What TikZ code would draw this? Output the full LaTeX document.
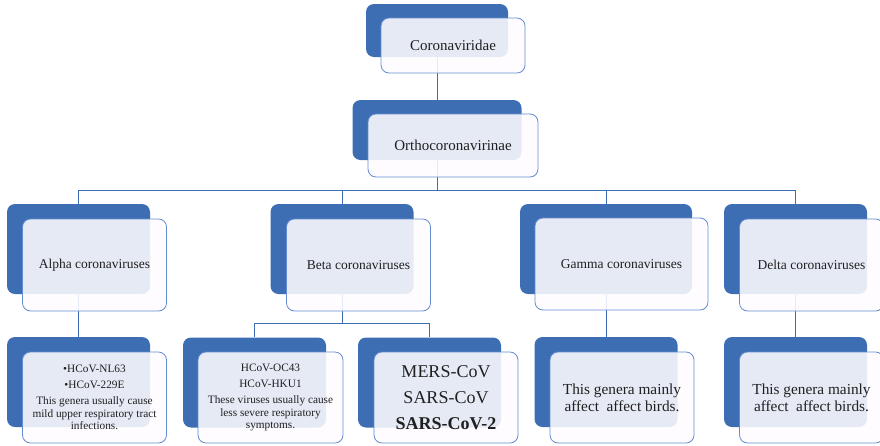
\documentclass[tikz,border=0pt]{standalone}
\usepackage{fontspec}
\setmainfont{Liberation Serif}
\definecolor{boxblue}{RGB}{61,110,180}
\definecolor{edgeblue}{RGB}{100,140,208}
\definecolor{frontfill}{RGB}{254,252,255}
\definecolor{txtgray}{RGB}{32,32,32}

\begin{document}
\begin{tikzpicture}[x=1pt, y=-1pt,
    back/.style={fill=boxblue, rounded corners=8pt, minimum width=143pt, minimum height=90pt, inner sep=0pt},
    front/.style={draw=edgeblue, line width=0.8pt, fill=frontfill, fill opacity=0.88, text opacity=1, text=txtgray,
                  rounded corners=8pt, minimum width=144pt, minimum height=92pt, inner sep=0pt, align=center},
    link/.style={draw=boxblue, line width=0.9pt},
    big/.style={font={\fontsize{15}{18}\selectfont}},
    mid/.style={font={\fontsize{13.5}{16}\selectfont}},
    small/.style={font={\fontsize{11.3}{12.5}\selectfont}},
    note/.style={font={\fontsize{15.3}{17}\selectfont}}]
    \useasboundingbox (0,0) rectangle (880,445);
    % blue boxes behind
    \node[back, minimum width=142pt, minimum height=53pt] (corB) at (437,30.5) {};
    \node[back, minimum width=169pt, minimum height=60pt] (ortB) at (437,130) {};
    \node[back] (alpB) at (78.5,249) {};
    \node[back] (betB) at (342,249) {};
    \node[back, minimum width=172pt] (gamB) at (606,249) {};
    \node[back] (delB) at (795.5,249) {};
    \node[back] (alpkB) at (78.5,382) {};
    \node[back] (hcovB) at (254.5,382.5) {};
    \node[back] (sarsB) at (429.5,382.5) {};
    \node[back] (gamkB) at (606,382) {};
    \node[back] (delkB) at (795.5,382) {};
    % connectors
    \coordinate (bus) at (437,190);
    \coordinate (betbus) at (342,323);
    \draw[link] (corB.south) -- (ortB.north);
    \draw[link] (ortB.south) -- (bus);
    \foreach \k in {alpB, betB, gamB, delB}
        \draw[link] (bus) -| (\k.north);
    \draw[link] (betB.south) -- (betbus);
    \foreach \k in {hcovB, sarsB}
        \draw[link] (betbus) -| (\k.north);
    \draw[link] (alpB.south) -- (alpkB.north);
    \draw[link] (gamB.south) -- (gamkB.north);
    \draw[link] (delB.south) -- (delkB.north);
    % text boxes in front
    \node[front, big, minimum height=55pt] (cor) at (453,45.5) {Coronaviridae};
    \node[front, big, minimum width=170pt, minimum height=63pt] (ort) at (453,145.5) {Orthocoronavirinae};
    \node[front, mid] (alp) at (94.5,265) {Alpha coronaviruses};
    \node[front, mid] (bet) at (358.5,265) {Beta coronaviruses};
    \node[front, mid, minimum width=173pt] (gam) at (621.5,264) {Gamma coronaviruses};
    \node[front, mid] (del) at (811.5,265) {Delta coronaviruses};
    \node[front, small, minimum height=91pt] (alpk) at (94.5,397.5)
        {•HCoV-NL63\\[3.5pt] •HCoV-229E\\[3.5pt] This genera usually cause\\ mild upper respiratory tract\\ infections.};
    \node[front, small, minimum width=145pt, minimum height=91pt] (hcov) at (270.5,397.5)
        {HCoV-OC43\\[3.5pt] HCoV-HKU1\\[3.5pt] These viruses usually cause\\ less severe respiratory\\ symptoms.};
    \node[front, minimum height=91pt, font={\fontsize{18}{26}\selectfont}] (sars) at (446,397.5)
        {MERS-CoV\\ SARS-CoV\\ \textbf{SARS-CoV-2}};
    \node[front, note, minimum height=91pt] (gamk) at (622,397.5) {This genera mainly\\ affect\ \ affect birds.};
    \node[front, note, minimum height=91pt] (delk) at (811.5,397.5) {This genera mainly\\ affect\ \ affect birds.};
\end{tikzpicture}
\end{document}
